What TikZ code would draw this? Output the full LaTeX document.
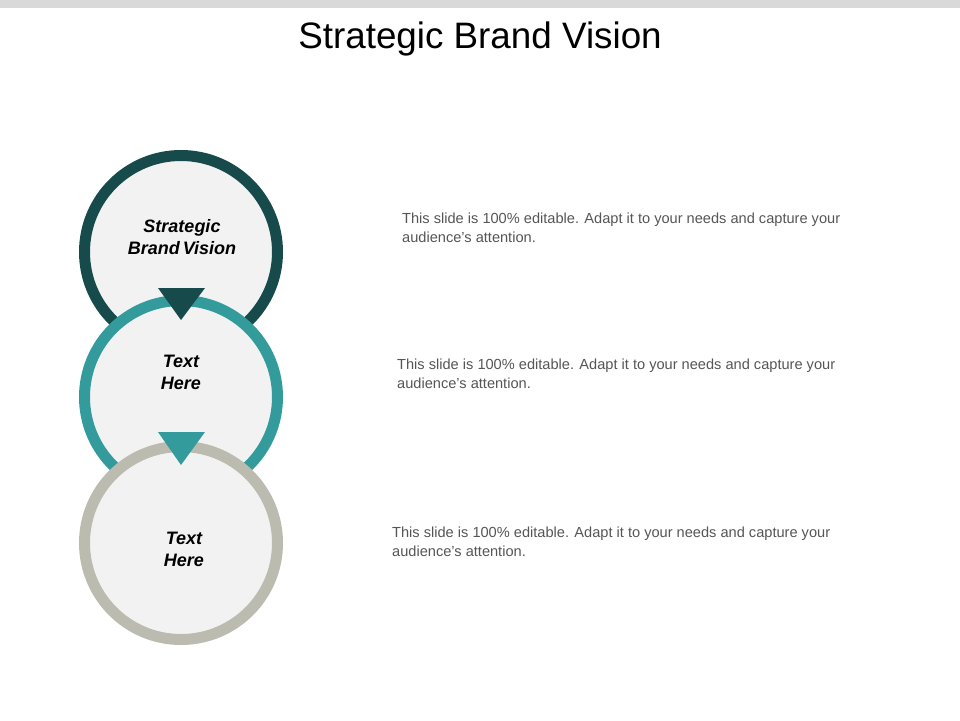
\documentclass[tikz,border=0pt]{standalone}
\usepackage{fontspec}
\setmainfont{Liberation Sans}[Ligatures=ResetAll]
\begin{document}
\begin{tikzpicture}[x=1pt,y=-1pt,
  ring/.style={line width=11pt,fill=fillg},
  lbl/.style={font=\bfseries\itshape\fontsize{18}{22}\selectfont,align=center},
  body/.style={font=\fontsize{14.6}{18.5}\selectfont,text=bodyg,align=left,anchor=north west,inner sep=0}]
\definecolor{c1}{HTML}{174B4B}
\definecolor{c2}{HTML}{339B9B}
\definecolor{c3}{HTML}{BBBBAF}
\definecolor{fillg}{HTML}{F2F2F2}
\definecolor{bodyg}{HTML}{555555}
\useasboundingbox (0,0) rectangle (960,720);
\fill[gray!30] (0,0) rectangle (960,8);
\node[font=\fontsize{36.8}{42}\selectfont] (title) at (480,39) {Strategic Brand Vision};
\draw[ring,draw=c1] (181,252) circle (96.5);
\draw[ring,draw=c2] (181,397) circle (96.5);
\fill[c1] (158,288) -- (205,288) -- (181,320) -- cycle;
\draw[ring,draw=c3] (181,543) circle (96.5);
\fill[c2] (158,432) -- (205,432) -- (181,465) -- cycle;
\node[lbl] (l1) at (182,237) {Strategic\\Brand\,Vision};
\node[lbl] (l2) at (181,372) {Text\\Here};
\node[lbl] (l3) at (184,549) {Text\\Here};
\node[body] (t1) at (402,213) {This slide is 100\% editable.  Adapt it to your needs and capture your\\audience's attention.};
\node[body] (t2) at (397,359) {This slide is 100\% editable.  Adapt it to your needs and capture your\\audience's attention.};
\node[body] (t3) at (392,527) {This slide is 100\% editable.  Adapt it to your needs and capture your\\audience's attention.};
\end{tikzpicture}
\end{document}
